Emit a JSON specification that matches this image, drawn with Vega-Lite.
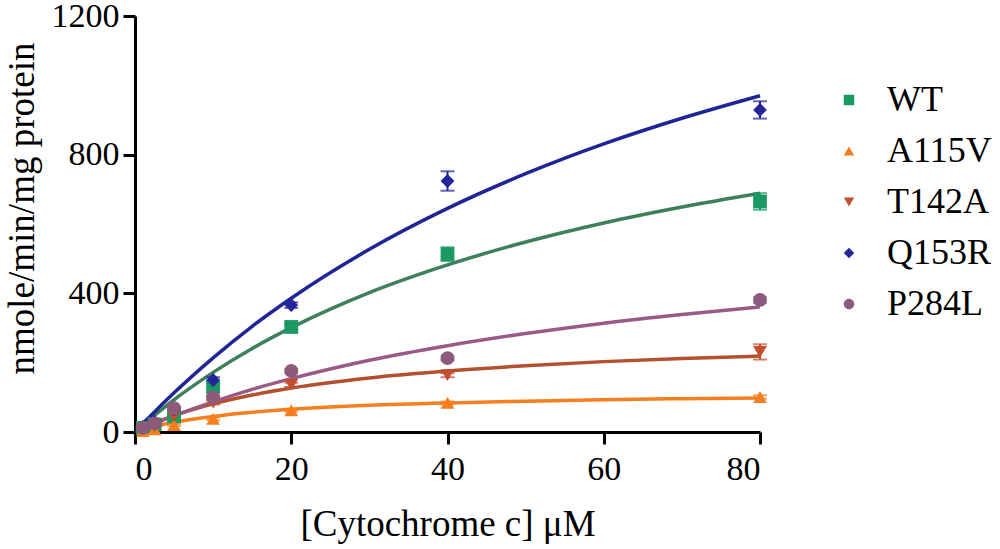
{
  "$schema": "https://vega.github.io/schema/vega-lite/v6.json",
  "width": 625,
  "height": 416,
  "autosize": "none",
  "padding": {"left": 135, "top": 16, "right": 240, "bottom": 117},
  "background": "white",
  "config": {
    "view": {"stroke": null},
    "font": "Liberation Serif",
    "axis": {
      "domainColor": "black",
      "domainWidth": 3,
      "tickColor": "black",
      "tickWidth": 3,
      "tickSize": 12,
      "labelFont": "Liberation Serif",
      "labelFontSize": 34,
      "labelColor": "black",
      "titleFont": "Liberation Serif",
      "titleFontWeight": "normal",
      "titleColor": "black",
      "grid": false
    }
  },
  "datasets": {
    "points": [
      {"g": "WT", "x": 1, "y": 12, "err": 4},
      {"g": "WT", "x": 2.5, "y": 22, "err": 4},
      {"g": "WT", "x": 5, "y": 45, "err": 6},
      {"g": "WT", "x": 10, "y": 130, "err": 15},
      {"g": "WT", "x": 20, "y": 303, "err": 8},
      {"g": "WT", "x": 40, "y": 513, "err": 20},
      {"g": "WT", "x": 80, "y": 665, "err": 24},
      {"g": "A115V", "x": 1, "y": 3, "err": 2},
      {"g": "A115V", "x": 2.5, "y": 8, "err": 2},
      {"g": "A115V", "x": 5, "y": 20, "err": 3},
      {"g": "A115V", "x": 10, "y": 38, "err": 4},
      {"g": "A115V", "x": 20, "y": 63, "err": 4},
      {"g": "A115V", "x": 40, "y": 84, "err": 4},
      {"g": "A115V", "x": 80, "y": 101, "err": 5},
      {"g": "T142A", "x": 1, "y": 8, "err": 3},
      {"g": "T142A", "x": 2.5, "y": 18, "err": 3},
      {"g": "T142A", "x": 5, "y": 45, "err": 4},
      {"g": "T142A", "x": 10, "y": 85, "err": 6},
      {"g": "T142A", "x": 20, "y": 136, "err": 6},
      {"g": "T142A", "x": 40, "y": 164, "err": 6},
      {"g": "T142A", "x": 80, "y": 231, "err": 22},
      {"g": "Q153R", "x": 1, "y": 15, "err": 4},
      {"g": "Q153R", "x": 2.5, "y": 30, "err": 4},
      {"g": "Q153R", "x": 5, "y": 65, "err": 6},
      {"g": "Q153R", "x": 10, "y": 150, "err": 8},
      {"g": "Q153R", "x": 20, "y": 366, "err": 8},
      {"g": "Q153R", "x": 40, "y": 724, "err": 28},
      {"g": "Q153R", "x": 80, "y": 929, "err": 25},
      {"g": "P284L", "x": 1, "y": 12, "err": 3},
      {"g": "P284L", "x": 2.5, "y": 25, "err": 3},
      {"g": "P284L", "x": 5, "y": 69, "err": 4},
      {"g": "P284L", "x": 10, "y": 100, "err": 5},
      {"g": "P284L", "x": 20, "y": 176, "err": 5},
      {"g": "P284L", "x": 40, "y": 213, "err": 6},
      {"g": "P284L", "x": 80, "y": 381, "err": 8}
    ],
    "curves": [
      {"fit": "WT", "x": 0.5, "y": 10}, {"fit": "WT", "x": 1, "y": 20}, {"fit": "WT", "x": 2.5, "y": 48},
      {"fit": "WT", "x": 5, "y": 93}, {"fit": "WT", "x": 10, "y": 172}, {"fit": "WT", "x": 15, "y": 241},
      {"fit": "WT", "x": 20, "y": 301}, {"fit": "WT", "x": 30, "y": 402}, {"fit": "WT", "x": 40, "y": 482},
      {"fit": "WT", "x": 50, "y": 548}, {"fit": "WT", "x": 60, "y": 603}, {"fit": "WT", "x": 70, "y": 649},
      {"fit": "WT", "x": 80, "y": 689},
      {"fit": "A115V", "x": 0.5, "y": 3.6}, {"fit": "A115V", "x": 1, "y": 7}, {"fit": "A115V", "x": 2.5, "y": 16},
      {"fit": "A115V", "x": 5, "y": 28}, {"fit": "A115V", "x": 10, "y": 45}, {"fit": "A115V", "x": 15, "y": 57},
      {"fit": "A115V", "x": 20, "y": 65.6}, {"fit": "A115V", "x": 30, "y": 77}, {"fit": "A115V", "x": 40, "y": 84},
      {"fit": "A115V", "x": 50, "y": 89}, {"fit": "A115V", "x": 60, "y": 93}, {"fit": "A115V", "x": 70, "y": 96},
      {"fit": "A115V", "x": 80, "y": 98},
      {"fit": "T142A", "x": 0.5, "y": 5.5}, {"fit": "T142A", "x": 1, "y": 10.8}, {"fit": "T142A", "x": 2.5, "y": 25.6},
      {"fit": "T142A", "x": 5, "y": 47}, {"fit": "T142A", "x": 10, "y": 81}, {"fit": "T142A", "x": 15, "y": 106.6},
      {"fit": "T142A", "x": 20, "y": 127}, {"fit": "T142A", "x": 30, "y": 156}, {"fit": "T142A", "x": 40, "y": 176},
      {"fit": "T142A", "x": 50, "y": 191}, {"fit": "T142A", "x": 60, "y": 203}, {"fit": "T142A", "x": 70, "y": 212},
      {"fit": "T142A", "x": 80, "y": 219},
      {"fit": "Q153R", "x": 0.5, "y": 12}, {"fit": "Q153R", "x": 1, "y": 24}, {"fit": "Q153R", "x": 2.5, "y": 58},
      {"fit": "Q153R", "x": 5, "y": 113}, {"fit": "Q153R", "x": 10, "y": 214}, {"fit": "Q153R", "x": 15, "y": 305},
      {"fit": "Q153R", "x": 20, "y": 386}, {"fit": "Q153R", "x": 30, "y": 527}, {"fit": "Q153R", "x": 40, "y": 645},
      {"fit": "Q153R", "x": 50, "y": 745}, {"fit": "Q153R", "x": 60, "y": 831}, {"fit": "Q153R", "x": 70, "y": 905},
      {"fit": "Q153R", "x": 80, "y": 970},
      {"fit": "P284L", "x": 0.5, "y": 5}, {"fit": "P284L", "x": 1, "y": 9.9}, {"fit": "P284L", "x": 2.5, "y": 24},
      {"fit": "P284L", "x": 5, "y": 47}, {"fit": "P284L", "x": 10, "y": 87}, {"fit": "P284L", "x": 15, "y": 123},
      {"fit": "P284L", "x": 20, "y": 154}, {"fit": "P284L", "x": 30, "y": 207}, {"fit": "P284L", "x": 40, "y": 249},
      {"fit": "P284L", "x": 50, "y": 284}, {"fit": "P284L", "x": 60, "y": 314}, {"fit": "P284L", "x": 70, "y": 339},
      {"fit": "P284L", "x": 80, "y": 361}
    ]
  },
  "encoding": {
    "x": {
      "field": "x", "type": "quantitative",
      "scale": {"domain": [0, 80], "nice": false},
      "axis": {"values": [0, 20, 40, 60, 80], "format": "d", "title": "[Cytochrome c] μM", "titleFontSize": 37, "titlePadding": 20, "labelPadding": 8}
    },
    "y": {
      "field": "y", "type": "quantitative",
      "scale": {"domain": [0, 1200], "nice": false},
      "axis": {"values": [0, 400, 800, 1200], "format": "d", "title": "nmole/min/mg protein", "titleFontSize": 37, "titlePadding": 10, "labelPadding": 4, "titleY": 192}
    }
  },
  "layer": [
    {
      "data": {"name": "curves"},
      "mark": {"type": "line", "interpolate": "monotone", "strokeWidth": 3.5},
      "encoding": {
        "color": {
          "field": "fit", "type": "nominal", "legend": null,
          "scale": {"domain": ["WT", "A115V", "T142A", "Q153R", "P284L"], "range": ["#3e7f5e", "#f57f1e", "#b4502f", "#1f2595", "#995a86"]}
        }
      }
    },
    {
      "data": {"name": "points"},
      "mark": {"type": "errorbar", "ticks": {"size": 14}, "thickness": 2},
      "encoding": {
        "yError": {"field": "err"},
        "color": {
          "field": "g", "type": "nominal", "legend": null,
          "scale": {"domain": ["WT", "A115V", "T142A", "Q153R", "P284L"], "range": ["#1a9a62", "#f57f1e", "#c24f30", "#23259a", "#8d5a7c"]}
        }
      }
    },
    {
      "data": {"name": "points"},
      "mark": {"type": "point", "filled": true, "opacity": 1, "size": 190, "clip": false},
      "encoding": {
        "fill": {
          "field": "g", "type": "nominal",
          "scale": {"domain": ["WT", "A115V", "T142A", "Q153R", "P284L"], "range": ["#1a9a62", "#f57f1e", "#c24f30", "#23259a", "#8d5a7c"]},
          "legend": {
            "title": null, "orient": "none", "legendX": 696, "legendY": 66,
            "labelFont": "Liberation Serif", "labelFontSize": 36, "labelColor": "black",
            "symbolSize": 110, "symbolOpacity": 1, "rowPadding": 15, "labelOffset": 20
          }
        },
        "shape": {
          "field": "g", "type": "nominal",
          "scale": {"domain": ["WT", "A115V", "T142A", "Q153R", "P284L"], "range": ["square", "triangle-up", "triangle-down", "diamond", "circle"]},
          "legend": {
            "title": null, "orient": "none", "legendX": 696, "legendY": 66,
            "labelFont": "Liberation Serif", "labelFontSize": 36, "labelColor": "black",
            "symbolSize": 110, "symbolOpacity": 1, "rowPadding": 15, "labelOffset": 20
          }
        }
      }
    }
  ],
  "resolve": {"scale": {"color": "independent"}}
}
